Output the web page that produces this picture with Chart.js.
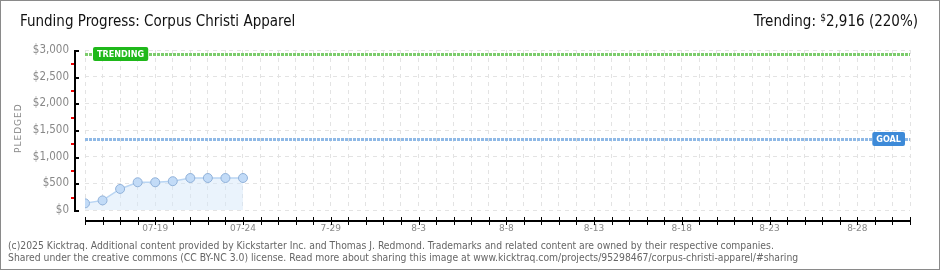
<!DOCTYPE html>
<html>
<head>
<title>Funding Progress</title>
<script src="https://cdn.jsdelivr.net/npm/chart.js@4.4.1/dist/chart.umd.min.js"></script>
<style>
  body { margin: 0; background: #fff; }
  #wrap { position: relative; width: 940px; height: 270px; overflow: hidden; }
  #frame { position: absolute; left: 0; top: 0; width: 938px; height: 268px; border: 1px solid #8a8a8a; pointer-events: none; }
  #title { position: absolute; left: 20px; top: 12px; font: 15px "DejaVu Sans Condensed", sans-serif; color: #111; }
  #trend { position: absolute; right: 22px; top: 12px; font: 15px "DejaVu Sans Condensed", sans-serif; color: #111; }
  #trend sup { font-size: 10px; vertical-align: 5px; }
  #ylab { position: absolute; left: 13px; transform: rotate(-90deg); transform-origin: left top; font: 9px "DejaVu Sans", sans-serif; letter-spacing: 1px; color: #888; }
  .foot { position: absolute; left: 8px; font: 10.3px "DejaVu Sans Condensed", sans-serif; color: #666; white-space: nowrap; }
  canvas { position: absolute; left: 0; top: 0; }
</style>
</head>
<body>
<div id="wrap">
  <canvas id="myChart" width="940" height="270"></canvas>
  <div id="title">Funding Progress: Corpus Christi Apparel</div>
  <div id="trend">Trending: <sup>$</sup>2,916 (220%)</div>
  <div id="ylab" style="top:153px">PLEDGED</div>
  <div class="foot" style="top:239px">(c)2025 Kicktraq. Additional content provided by Kickstarter Inc. and Thomas J. Redmond. Trademarks and related content are owned by their respective companies.</div>
  <div class="foot" style="top:251px">Shared under the creative commons (CC BY-NC 3.0) license. Read more about sharing this image at www.kicktraq.com/projects/95298467/corpus-christi-apparel/#sharing</div>
  <div id="frame"></div>
</div>

<script>
  // day 0 = 07-15, day 47 = 08-31
  var days = [0, 1, 2, 3, 4, 5, 6, 7, 8, 9];
  var dates = ["07-15", "07-16", "07-17", "07-18", "07-19", "07-20", "07-21", "07-22", "07-23", "07-24"];
  var pledged = [125, 180, 395, 520, 520, 540, 600, 600, 600, 600];
  var tickDays = [4, 9, 14, 19, 24, 29, 34, 39, 44];
  var tickLabels = ["07-19", "07-24", "7-29", "8-3", "8-8", "8-13", "8-18", "8-23", "8-28"];
  var lastDay = 47;
  var goal = 1325;
  var trending = 2916;

  var points = days.map(function (d, i) { return { x: d, y: pledged[i] }; });

  var markers = {
    id: "markers",
    beforeDatasetsDraw: function (chart) {
      var ctx = chart.ctx, a = chart.chartArea, y = chart.scales.y;
      ctx.save();
      ctx.lineWidth = 3;
      ctx.setLineDash([3, 1]);
      [[goal, "#8fb9e6"], [trending, "#7ccc6c"]].forEach(function (m) {
        var py = Math.round(y.getPixelForValue(m[0])) + 0.5;
        ctx.strokeStyle = m[1];
        ctx.beginPath();
        ctx.moveTo(a.left, py);
        ctx.lineTo(a.right, py);
        ctx.stroke();
      });
      ctx.restore();
    },
    afterDraw: function (chart) {
      var ctx = chart.ctx, a = chart.chartArea, x = chart.scales.x, y = chart.scales.y;
      ctx.save();
      ctx.setLineDash([]);
      // y axis line and ticks
      var ax = Math.round(a.left) - 11;
      var y0 = Math.round(y.getPixelForValue(3000));
      var y1 = Math.round(y.getPixelForValue(0));
      ctx.fillStyle = "#000";
      ctx.fillRect(ax, y0, 2, y1 - y0 + 1);
      y.ticks.forEach(function (t) {
        var py = Math.round(y.getPixelForValue(t.value));
        if (t.value % 500 === 0) {
          ctx.fillStyle = "#000";
          ctx.fillRect(ax, py, 5, 2);
        } else {
          ctx.fillStyle = "#e00";
          ctx.fillRect(ax - 3, py, 3, 2);
        }
      });
      // x axis line and ticks
      var ay = y1 + 10;
      ctx.fillStyle = "#000";
      ctx.fillRect(Math.round(a.left), ay, Math.round(a.right - a.left) + 1, 2);
      x.ticks.forEach(function (t) {
        var px = Math.round(x.getPixelForValue(t.value));
        ctx.fillRect(px, ay - 3, 1, 8);
      });
      // badges
      function badge(text, bg, cx, value, left) {
        var py = Math.round(y.getPixelForValue(value));
        ctx.font = "bold 9px 'DejaVu Sans Condensed', sans-serif";
        var w = ctx.measureText(text).width + 8;
        var bx = left ? cx : cx - w;
        ctx.fillStyle = bg;
        ctx.beginPath();
        ctx.roundRect(bx, py - 7, w, 14, 2);
        ctx.fill();
        ctx.fillStyle = "#fff";
        ctx.textBaseline = "middle";
        ctx.textAlign = "left";
        ctx.fillText(text, bx + 4, py + 0.5);
      }
      badge("TRENDING", "#1fb81a", 93, trending, true);
      badge("GOAL", "#3d8ad8", 905, goal, false);
      ctx.restore();
    }
  };

  new Chart(document.getElementById("myChart"), {
    type: "line",
    data: {
      datasets: [{
        label: "Pledged",
        data: points,
        borderColor: "#b9d5f3",
        borderWidth: 1.5,
        backgroundColor: "rgba(214,231,250,0.5)",
        fill: "origin",
        tension: 0,
        pointRadius: 4.5,
        pointBackgroundColor: "#c2dbf7",
        pointBorderColor: "#90b1d9",
        pointBorderWidth: 1
      }]
    },
    options: {
      responsive: false,
      animation: false,
      layout: { padding: { left: 0, right: 30, top: 50, bottom: 0 } },
      plugins: { legend: { display: false }, tooltip: { enabled: false } },
      scales: {
        x: {
          type: "linear",
          min: 0,
          max: lastDay,
          afterFit: function (s) { s.height = 60; },
          grid: { color: "#e3e3e3", drawTicks: false },
          border: { display: false, dash: [4, 4] },
          ticks: {
            stepSize: 1,
            autoSkip: false,
            maxRotation: 0,
            padding: 13,
            color: "#888",
            font: { size: 9, family: "'DejaVu Sans', sans-serif" },
            callback: function (v) {
              var i = tickDays.indexOf(v);
              return i >= 0 ? tickLabels[i] : "";
            }
          }
        },
        y: {
          min: 0,
          max: 3000,
          afterFit: function (s) { s.width = 85; },
          grid: {
            drawTicks: false,
            color: function (c) { return c.tick && c.tick.value % 500 === 0 ? "#e3e3e3" : "rgba(0,0,0,0)"; }
          },
          border: { display: false, dash: [4, 4] },
          ticks: {
            stepSize: 250,
            autoSkip: false,
            padding: 16,
            color: "#888",
            font: { size: 11.5, family: "'DejaVu Sans Condensed', sans-serif" },
            callback: function (v) { return v % 500 === 0 ? "$" + v.toLocaleString("en-US") : ""; }
          }
        }
      }
    },
    plugins: [markers]
  });
</script>
</body>
</html>
